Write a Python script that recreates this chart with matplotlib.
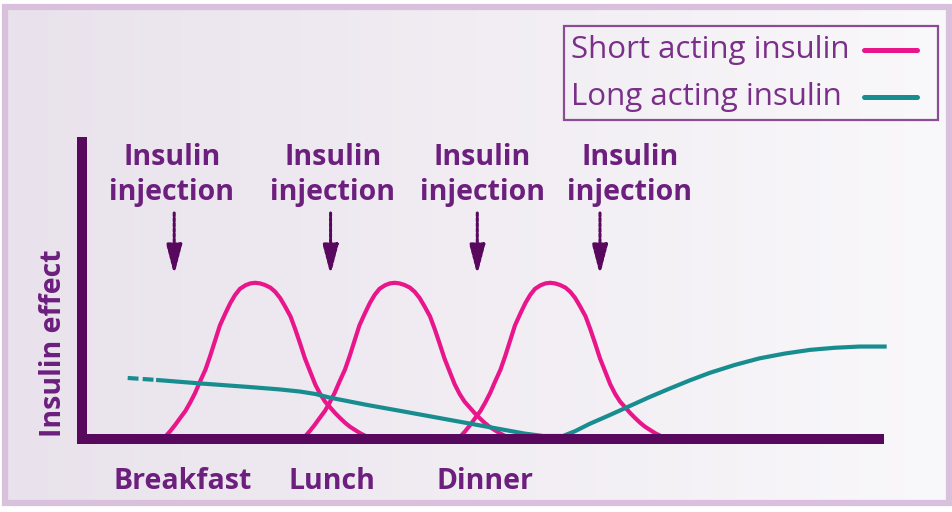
import numpy as np
import matplotlib
matplotlib.use('Agg')
import matplotlib.pyplot as plt
from matplotlib.colors import LinearSegmentedColormap
from matplotlib.patches import Rectangle

# time runs left->right (0..100), effect bottom->top (arbitrary units)
peaks = [21.6, 39.0, 58.4]   # short acting peaks
# one short acting profile, read off the first peak (offsets from its top)
bell_dx = np.array([-11.8, -11.2, -10.6, -10.0, -9.4, -8.7, -8.1, -7.5, -6.9, -6.2,
                    -5.6, -5.0, -4.4, -3.7, -3.1, -2.5, -1.9, -1.2, -0.6, 0.0,
                    0.6, 1.2, 1.9, 2.5, 3.1, 3.7, 4.4, 5.0, 5.6, 6.2, 6.9, 7.5,
                    8.1, 8.7, 9.4, 10.0, 10.6, 11.2, 11.8, 12.5, 13.1, 13.7, 14.3])
bell_y = np.array([-0.7, 0.8, 2.6, 4.6, 6.8, 9.3, 12.1, 15.2, 18.9, 23.0,
                   27.6, 32.6, 37.6, 41.7, 45.0, 47.7, 49.7, 50.9, 51.5, 51.7,
                   51.5, 51.0, 50.1, 48.7, 46.7, 44.0, 40.6, 36.3, 31.6, 26.7, 22.0, 18.0,
                   14.9, 12.4, 10.3, 8.5, 6.9, 5.4, 4.1, 2.9, 1.9, 1.1, 0.3])

teal_x = [9.5, 14.7, 20.9, 24.7, 27.2, 29.1, 30.9, 35.5, 39.7, 45.9, 52.1, 55.2, 57.5,
          60.0, 61.5, 63.3, 65.8, 68.3, 70.8, 73.3, 75.8, 78.3, 81.4, 84.5, 87.7,
          90.8, 93.9, 97.0, 100.1]
teal_y = [19.5, 18.4, 17.2, 16.4, 15.7, 14.9, 13.7, 11.3, 9.3, 6.3, 3.3, 1.8, 1.0,
          1.0, 2.6, 5.0, 7.9, 10.9, 13.9, 16.7, 19.4, 21.9, 24.5, 26.7, 28.3,
          29.5, 30.2, 30.6, 30.6]
dash_x = [5.7, 9.0]
dash_y = [20.2, 19.6]

inj_text_x = [11.2, 31.3, 49.9, 68.3]
inj_arrow_x = [11.5, 31.0, 49.3, 64.6]
meals = ['Breakfast', 'Lunch', 'Dinner']
meal_x = [12.5, 31.2, 50.2]
series = ['Short acting insulin', 'Long acting insulin']

pink = '#e8168a'
teal = '#188d90'
dark = '#58095e'
txt = '#6c1f7d'

plt.rcParams['font.family'] = ['Open Sans', 'DejaVu Sans']

fig = plt.figure(figsize=(9.52, 5.12), dpi=100)

# background panel
bg = fig.add_axes([0, 0, 1, 1])
grad = np.linspace(0, 1, 256).reshape(1, -1)
cmap = LinearSegmentedColormap.from_list('bg', ['#e9e2ec', '#f9f8fa'])
bg.imshow(grad, cmap=cmap, extent=(5, 949, 503, 7), aspect='auto')
bg.add_patch(Rectangle((5, 7), 944, 496, fill=False, ec='#d9c0dc', lw=4.5))
bg.set_xlim(0, 952)
bg.set_ylim(512, 0)
bg.axis('off')

# legend box
bg.add_patch(Rectangle((564, 26), 374, 94, fill=False, ec='#8b4c96', lw=1.6))
for lab, col, yy in zip(series, [pink, teal], [50, 97]):
    bg.text(571, yy, lab, ha='left', va='center', fontsize=22.5, color='#7a2f88',
            weight='medium')
    bg.plot([864, 917], [yy, yy], color=col, lw=3.6, solid_capstyle='round')

ax = fig.add_axes([82 / 952, 73 / 512, 797 / 952, 297 / 512])
ax.set_xlim(0, 99.4)
ax.set_ylim(0, 98.3)
ax.patch.set_alpha(0)
ax.spines['top'].set_visible(False)
ax.spines['right'].set_visible(False)
for s in ['left', 'bottom']:
    ax.spines[s].set_linewidth(7.2)
    ax.spines[s].set_color(dark)
    ax.spines[s].set_capstyle('projecting')
ax.set_xticks([])
ax.set_yticks([])

for c in peaks:
    ax.plot(c + bell_dx, bell_y, color=pink, lw=3, clip_on=False,
            solid_joinstyle='round')
ax.plot(teal_x, teal_y, color=teal, lw=3, clip_on=False, solid_joinstyle='round')
ax.plot(dash_x, dash_y, color=teal, lw=3, dashes=(2.6, 1.0), clip_on=False)

for x in inj_text_x:
    ax.text(x, 87.4, 'Insulin\ninjection', ha='center', va='center', fontsize=20.5,
            weight='bold', color=txt, linespacing=1.25)
for x in inj_arrow_x:
    ax.annotate('', xy=(x, 54.3), xytext=(x, 74.8),
                arrowprops=dict(arrowstyle='-|>,head_length=1.8,head_width=0.47',
                                mutation_scale=10, lw=2.2, ls=(0, (1, 0.7)),
                                color=dark, shrinkA=0, shrinkB=0))

for name, x in zip(meals, meal_x):
    ax.text(x, -14.2, name, ha='center', va='center', fontsize=20.5, weight='bold',
            color=txt, clip_on=False)

ax.set_ylabel('Insulin effect', fontsize=20.5, weight='bold', color=txt, va='center')
ax.yaxis.set_label_coords((54 - 82) / 797, (439 - 343) / 297)

fig.savefig('out.png', dpi=100)
